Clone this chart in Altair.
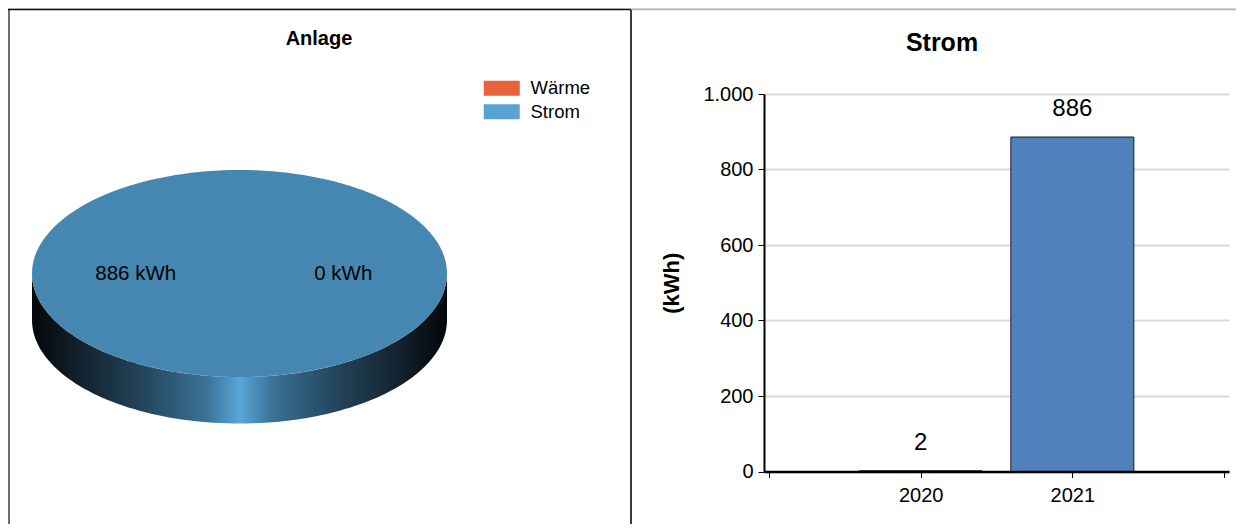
import math
import altair as alt
import pandas as pd

# ---------------- data ----------------
panel_titles = ["Anlage", "Strom"]
pie_categories = ["Wärme", "Strom"]
pie_values = [0, 886]
years = [2020, 2021]
strom_kwh = [2, 886]
y_ticks = [0, 200, 400, 600, 800, 1000]
x_ticks = [2019, 2020, 2021, 2022]

legend_colors = ["#e6623a", "#58a2d4"]
face_colors = ["#c2552f", "#4587b0"]
bar_color = "#4f81bd"

# ---------------- geometry (canvas px) ----------------
W, H = 1228, 516
X0, X1 = 756, 1221        # bar panel x range
Y0, Y1 = 463.5, 86        # bar panel y range (0 .. 1000)
CX, CY = 231.5, 265.5     # pie centre
RX, RY, DEPTH = 207.5, 103.5, 46.5
K = RY / RX
D = DEPTH / RX


def f(v):
    return f"{v:.4f}"


def ellipse_points(a0, a1, n, dy=0.0):
    pts = []
    for i in range(n + 1):
        t = a0 + (a1 - a0) * i / n
        pts.append((math.cos(t), K * math.sin(t) + dy))
    return pts


total = sum(pie_values)
paths = []
start = 0.0
for v in pie_values:
    a0 = start / total * 2 * math.pi
    a1 = (start + v) / total * 2 * math.pi
    if v == 0:
        paths.append(None)
    elif v == total:
        pts = ellipse_points(0, 2 * math.pi, 160)
        paths.append("M" + " L".join(f"{f(x)},{f(y)}" for x, y in pts) + " Z")
    else:
        pts = ellipse_points(a0, a1, 80)
        paths.append("M0,0 L" + " L".join(f"{f(x)},{f(y)}" for x, y in pts) + " Z")
    start += v

pie_df = pd.DataFrame({
    "Energie": pie_categories,
    "kWh": pie_values,
    "idx": list(range(len(pie_categories))),
    "label": [f"{v} kWh" for v in pie_values],
    "path": paths,
})
face_df = pie_df.dropna(subset=["path"])

# side of the 3D pie (front half)
front = ellipse_points(math.pi, 0, 100)
back = ellipse_points(0, math.pi, 100, dy=D)
side_path = ("M" + " L".join(f"{f(x)},{f(y)}" for x, y in front)
             + " L" + " L".join(f"{f(x)},{f(y)}" for x, y in back) + " Z")
side_df = pd.DataFrame({"Energie": ["Strom"], "kWh": [total]})

bar_df = pd.DataFrame({"Jahr": years, "kWh": strom_kwh})
title_df = pd.DataFrame({"titel": panel_titles})

FONT = "Liberation Sans"
sym = (2 * RX) ** 2

side_gradient = {
    "gradient": "linear", "x1": 0, "x2": 1, "y1": 0, "y2": 0,
    "stops": [
        {"offset": 0.0, "color": "#04070a"},
        {"offset": 0.12, "color": "#13222f"},
        {"offset": 0.28, "color": "#264860"},
        {"offset": 0.42, "color": "#3a7296"},
        {"offset": 0.5, "color": "#58a7d8"},
        {"offset": 0.58, "color": "#3a7296"},
        {"offset": 0.72, "color": "#264860"},
        {"offset": 0.88, "color": "#13222f"},
        {"offset": 1.0, "color": "#04070a"},
    ],
}

# legend carrier: tiny squares hidden under the pie face
legend_layer = alt.Chart(pie_df).mark_square(size=4, filled=True, opacity=1).encode(
    x=alt.value(CX), y=alt.value(CY - 20),
    color=alt.Color(
        "Energie:N",
        scale=alt.Scale(domain=pie_categories, range=legend_colors),
        legend=alt.Legend(
            orient="none", legendX=484.5, legendY=71, title=None,
            symbolType="M-2.4,-1H2.4V1H-2.4Z", symbolSize=225, symbolStrokeWidth=0,
            symbolOpacity=1, labelFontSize=18.5, labelFont=FONT, labelColor="black",
            labelOffset=19.5, rowPadding=4.5, padding=0,
        ),
    ),
)

side = alt.Chart(side_df).mark_point(
    shape=side_path, size=sym, filled=True, opacity=1, strokeWidth=0, fill=side_gradient
).encode(x=alt.value(CX), y=alt.value(CY))

face = alt.Chart(face_df).mark_point(size=sym, filled=True, opacity=1, strokeWidth=0).encode(
    x=alt.value(CX), y=alt.value(CY),
    shape=alt.Shape("path:N", scale=None),
    fill=alt.Fill("Energie:N", scale=alt.Scale(domain=pie_categories, range=face_colors), legend=None),
)

pie_labels = alt.Chart(pie_df).mark_text(
    radius=RX / 2, fontSize=20.5, font=FONT, color="black", baseline="middle", align="center"
).encode(
    x=alt.value(CX), y=alt.value(CY),
    theta=alt.Theta("kWh:Q", stack=True, scale=alt.Scale(range=[math.pi / 2, 2.5 * math.pi])),
    order=alt.Order("idx:Q"),
    text="label:N",
)

xscale = alt.Scale(domain=[x_ticks[0], x_ticks[-1]], range=[X0, X1], nice=False, zero=False)
yscale = alt.Scale(domain=[y_ticks[0], y_ticks[-1]], range=[Y0, Y1], nice=False)

bars = alt.Chart(bar_df).mark_bar(
    size=123, color=bar_color, stroke="#1a1a1a", strokeWidth=1, orient="vertical"
).encode(
    x=alt.X("Jahr:Q", scale=xscale, axis=alt.Axis(
        values=x_ticks, title=None, grid=False, zindex=2,
        labelExpr="(datum.value == 2019 || datum.value == 2022) ? '' : toString(datum.value)",
        domainWidth=2.6, domainColor="black", tickColor="black", tickSize=6, tickWidth=1,
        labelFontSize=20, labelFont=FONT, labelColor="black", labelPadding=8,
        labelFlush=False, labelOverlap=False, offset=-(H - Y0),
    )),
    y=alt.Y("kWh:Q", scale=yscale, stack=None, axis=alt.Axis(
        values=y_ticks, title="(kWh)", titleFontSize=22, titleFont=FONT, titleFontWeight="bold",
        titleColor="black", titleX=-86, titleBaseline="alphabetic",
        labelExpr="replace(format(datum.value, ','), ',', '.')",
        grid=True, gridColor="#d9d9d9", gridWidth=2,
        domainWidth=2, domainColor="black", tickColor="black", tickSize=6, tickWidth=1,
        labelFontSize=20, labelFont=FONT, labelColor="black", labelPadding=5,
        offset=-X0,
    )),
)

bar_text = alt.Chart(bar_df).mark_text(
    fontSize=24, font=FONT, color="black", baseline="alphabetic", dy=-21, align="center"
).encode(x="Jahr:Q", y="kWh:Q", text="kWh:Q")

title_left = alt.Chart(title_df.iloc[[0]]).mark_text(
    fontSize=20, fontWeight="bold", font=FONT, color="black", baseline="alphabetic", align="center"
).encode(x=alt.value(311), y=alt.value(37), text="titel:N")

title_right = alt.Chart(title_df.iloc[[1]]).mark_text(
    fontSize=25, fontWeight="bold", font=FONT, color="black", baseline="alphabetic", align="center"
).encode(x=alt.value(934), y=alt.value(43), text="titel:N")

frame_df = title_df.iloc[[0]]
border_left = alt.Chart(frame_df).mark_rule(color="#6e6e6e", strokeWidth=2).encode(
    x=alt.value(1), y=alt.value(1.5), y2=alt.value(H))
border_top_l = alt.Chart(frame_df).mark_rule(color="#111111", strokeWidth=1.5).encode(
    x=alt.value(0), x2=alt.value(623), y=alt.value(1.5))
border_top_r = alt.Chart(frame_df).mark_rule(color="#b5b5b5", strokeWidth=1.5).encode(
    x=alt.value(624), x2=alt.value(W), y=alt.value(1.5))
divider = alt.Chart(frame_df).mark_rule(color="#3c3c3c", strokeWidth=2).encode(
    x=alt.value(623), y=alt.value(1.5), y2=alt.value(H))

chart = alt.layer(
    border_left, border_top_l, border_top_r, divider,
    title_left, title_right,
    legend_layer, side, face, pie_labels,
    bars, bar_text,
).properties(
    width=W, height=H, autosize=alt.AutoSizeParams(type="none"), padding=0,
).configure_view(stroke=None).configure(background="white")

chart.save("out.html", embed_options={"renderer": "svg", "actions": False})
